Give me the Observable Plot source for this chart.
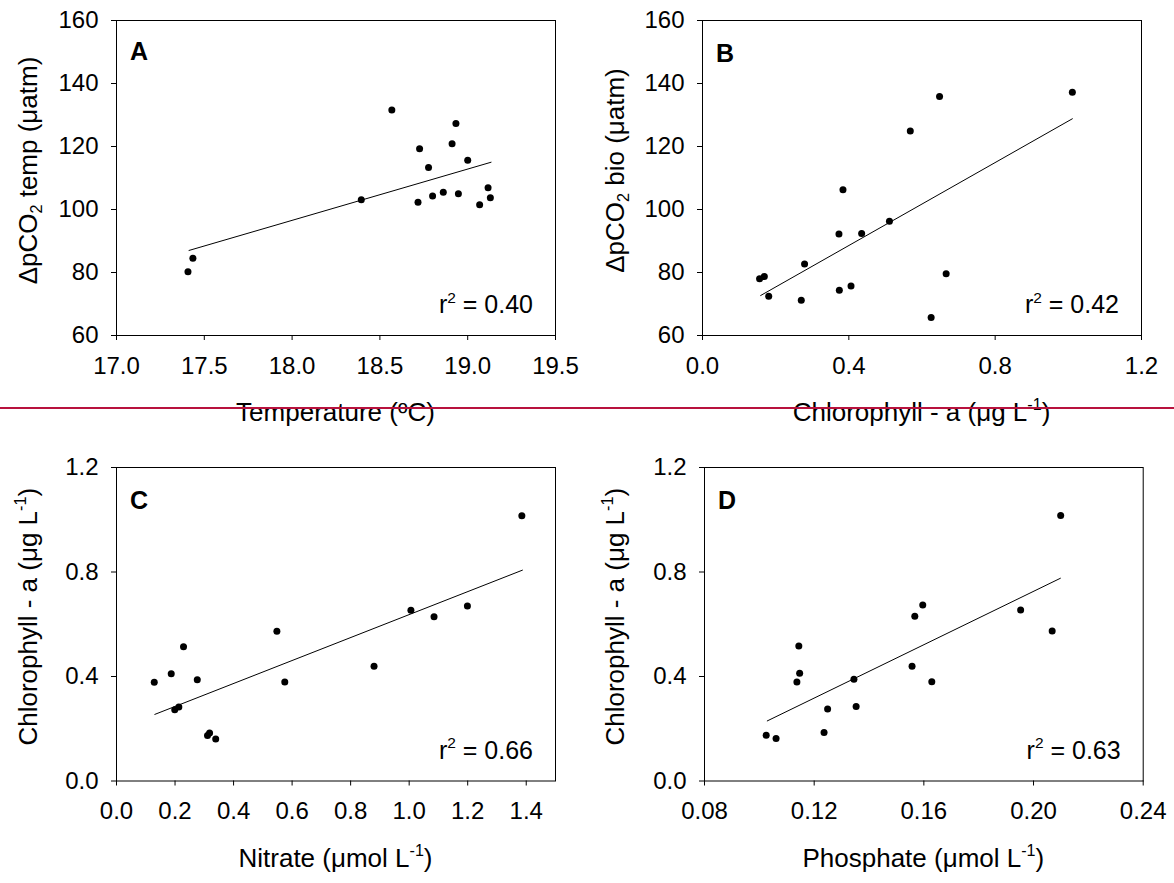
<!DOCTYPE html>
<html><head><meta charset="utf-8">
<script src="https://cdn.jsdelivr.net/npm/d3@7"></script>
<script src="https://cdn.jsdelivr.net/npm/@observablehq/plot@0.6"></script>
<style>
body{margin:0;background:#fff;}
#wrap{position:relative;width:1174px;height:883px;font-family:"Liberation Sans",Arial,sans-serif;overflow:hidden;}
.panel{position:absolute;}
#redline{position:absolute;left:0;top:407px;width:1174px;height:2px;background:#b8123e;z-index:5;}
</style></head><body><div id="wrap"></div>
<script>
// Panel A: temperature vs ΔpCO2 temp
const tempA = [17.407,17.435,18.394,18.568,18.726,18.717,18.777,18.800,18.861,18.911,18.933,18.947,19.000,19.068,19.116,19.129];
const pco2TempA = [80.2,84.5,103.1,131.6,119.3,102.3,113.3,104.3,105.5,120.9,127.3,105.0,115.6,101.5,106.9,103.7];
const fitAx = [17.413, 19.133];
const fitAy = [87.0, 115.0];
// Panel B: chlorophyll vs ΔpCO2 bio
const chlB = [0.156,0.169,0.181,0.270,0.279,0.373,0.374,0.384,0.406,0.435,0.511,0.568,0.625,0.648,0.666,1.011];
const pco2BioB = [78.0,78.7,72.5,71.2,82.7,92.2,74.4,106.3,75.7,92.4,96.3,124.9,65.7,135.9,79.6,137.2];
const fitBx = [0.159, 1.011];
const fitBy = [72.7, 128.8];
// Panel C: nitrate vs chlorophyll
const nitC = [0.129,0.187,0.199,0.213,0.229,0.276,0.311,0.318,0.339,0.548,0.575,0.880,1.006,1.085,1.199,1.385];
const chlC = [0.378,0.411,0.273,0.283,0.514,0.388,0.174,0.184,0.161,0.573,0.379,0.439,0.654,0.629,0.670,1.015];
const fitCx = [0.131, 1.387];
const fitCy = [0.255, 0.807];
// Panel D: phosphate vs chlorophyll
const phoD = [0.1025,0.1061,0.1137,0.1147,0.1144,0.1236,0.1249,0.1345,0.1353,0.1557,0.1567,0.1596,0.1629,0.1953,0.2068,0.2099];
const chlD = [0.175,0.163,0.379,0.412,0.517,0.186,0.276,0.389,0.285,0.439,0.631,0.674,0.380,0.655,0.574,1.016];
const fitDx = [0.1029, 0.2098];
const fitDy = [0.230, 0.776];
// ticks
const ticksTemp = [17.0,17.5,18.0,18.5,19.0,19.5];
const ticksPco2 = [60,80,100,120,140,160];
const ticksChlX = [0.0,0.4,0.8,1.2];
const ticksNit = [0.0,0.2,0.4,0.6,0.8,1.0,1.2,1.4];
const ticksPho = [0.08,0.12,0.16,0.20,0.24];
const ticksChlY = [0.0,0.4,0.8,1.2];
const letters = ["A","B","C","D"];
const r2 = ["0.40","0.42","0.66","0.63"];

const FONT = '"Liberation Sans", Arial, sans-serif';
const W = 587, H = 441;

function rich(textSel, parts, fs) {
  parts.forEach(([t, kind], i) => {
    const ts = textSel.append("tspan").text(t);
    if (kind === "sup") {
      ts.attr("font-size", fs * 0.62).attr("dy", -fs * 0.42);
    } else if (kind === "sub") {
      ts.attr("font-size", fs * 0.62).attr("dy", fs * 0.2);
    } else if (i > 0) {
      const prev = parts[i - 1][1];
      if (prev === "sup") ts.attr("dy", fs * 0.42);
      else if (prev === "sub") ts.attr("dy", -fs * 0.2);
    }
  });
}

function makePanel(o) {
  const data = o.xs.map((x, i) => ({x, y: o.ys[i]}));
  const fit = o.fitX.map((x, i) => ({x, y: o.fitY[i]}));
  const plot = Plot.plot({
    width: W, height: H,
    marginLeft: o.ml, marginRight: o.mr, marginTop: o.mt, marginBottom: o.mb,
    style: {fontSize: "24px", fontFamily: FONT, color: "#000", background: "transparent", overflow: "visible"},
    x: {domain: o.xDomain, ticks: o.xTicks, tickFormat: d3.format(o.xFmt), tickSize: 5, tickPadding: 16, label: null},
    y: {domain: o.yDomain, ticks: o.yTicks, tickFormat: d3.format(o.yFmt), tickSize: 5, tickPadding: 13, label: null},
    marks: [
      Plot.frame({stroke: "#000", strokeWidth: 1}),
      Plot.line(fit, {x: "x", y: "y", stroke: "#000", strokeWidth: 1}),
      Plot.dot(data, {x: "x", y: "y", r: 3.5, fill: "#000", stroke: null})
    ]
  });
  const svg = d3.select(plot);
  const fl = o.ml, fr = W - o.mr, ft = o.mt, fb = H - o.mb;
  // x title
  const xt = svg.append("text").attr("x", (fl + fr) / 2).attr("y", fb + 86)
    .attr("text-anchor", "middle").attr("font-size", 26).attr("font-family", FONT).attr("fill", "#000");
  rich(xt, o.xTitle, 26);
  // y title
  const yt = svg.append("text").attr("transform", `translate(37,${(ft + fb) / 2 - 7}) rotate(-90)`)
    .attr("text-anchor", "middle").attr("font-size", 26).attr("font-family", FONT).attr("fill", "#000");
  rich(yt, o.yTitle, 26);
  // panel letter
  svg.append("text").attr("x", fl + 23).attr("y", ft + o.letterDy)
    .attr("font-size", 25).attr("font-weight", "bold").attr("font-family", FONT).attr("fill", "#000").text(o.letter);
  // r^2
  const rt = svg.append("text").attr("x", fr - 22).attr("y", fb - 22)
    .attr("text-anchor", "end").attr("font-size", 25).attr("font-family", FONT).attr("fill", "#000");
  rich(rt, [["r", "n"], ["2", "sup"], [" = " + o.r2, "n"]], 25);
  const div = document.createElement("div");
  div.className = "panel";
  div.style.left = o.left + "px";
  div.style.top = o.top + "px";
  div.appendChild(plot);
  document.getElementById("wrap").appendChild(div);
}

const pco2Title = (w) => [["ΔpCO", "n"], ["2", "sub"], [" " + w + " (μatm)", "n"]];
const chlTitle = [["Chlorophyll - a (μg L", "n"], ["-1", "sup"], [")", "n"]];

makePanel({left: 0, top: 0, ml: 116, mr: 32, mt: 20, mb: 106,
  xs: tempA, ys: pco2TempA, fitX: fitAx, fitY: fitAy,
  xDomain: [17, 19.5], xTicks: ticksTemp, xFmt: ".1f",
  yDomain: [60, 160], yTicks: ticksPco2, yFmt: "d",
  xTitle: [["Temperature (ºC)", "n"]], yTitle: pco2Title("temp"),
  letter: letters[0], letterDy: 40, r2: r2[0]});
makePanel({left: 587, top: 0, ml: 115, mr: 33, mt: 20, mb: 106,
  xs: chlB, ys: pco2BioB, fitX: fitBx, fitY: fitBy,
  xDomain: [0, 1.2], xTicks: ticksChlX, xFmt: ".1f",
  yDomain: [60, 160], yTicks: ticksPco2, yFmt: "d",
  xTitle: chlTitle, yTitle: pco2Title("bio"),
  letter: letters[1], letterDy: 42, r2: r2[1]});
makePanel({left: 0, top: 441, ml: 116, mr: 32, mt: 26, mb: 101.5,
  xs: nitC, ys: chlC, fitX: fitCx, fitY: fitCy,
  xDomain: [0, 1.5], xTicks: ticksNit, xFmt: ".1f",
  yDomain: [0, 1.2], yTicks: ticksChlY, yFmt: ".1f",
  xTitle: [["Nitrate (μmol L", "n"], ["-1", "sup"], [")", "n"]], yTitle: chlTitle,
  letter: letters[2], letterDy: 42, r2: r2[2]});
makePanel({left: 587, top: 441, ml: 117, mr: 31.3, mt: 26, mb: 101.5,
  xs: phoD, ys: chlD, fitX: fitDx, fitY: fitDy,
  xDomain: [0.08, 0.24], xTicks: ticksPho, xFmt: ".2f",
  yDomain: [0, 1.2], yTicks: ticksChlY, yFmt: ".1f",
  xTitle: [["Phosphate (μmol L", "n"], ["-1", "sup"], [")", "n"]], yTitle: chlTitle,
  letter: letters[3], letterDy: 42, r2: r2[3]});

const red = document.createElement("div");
red.id = "redline";
document.getElementById("wrap").appendChild(red);
</script>
</body></html>
